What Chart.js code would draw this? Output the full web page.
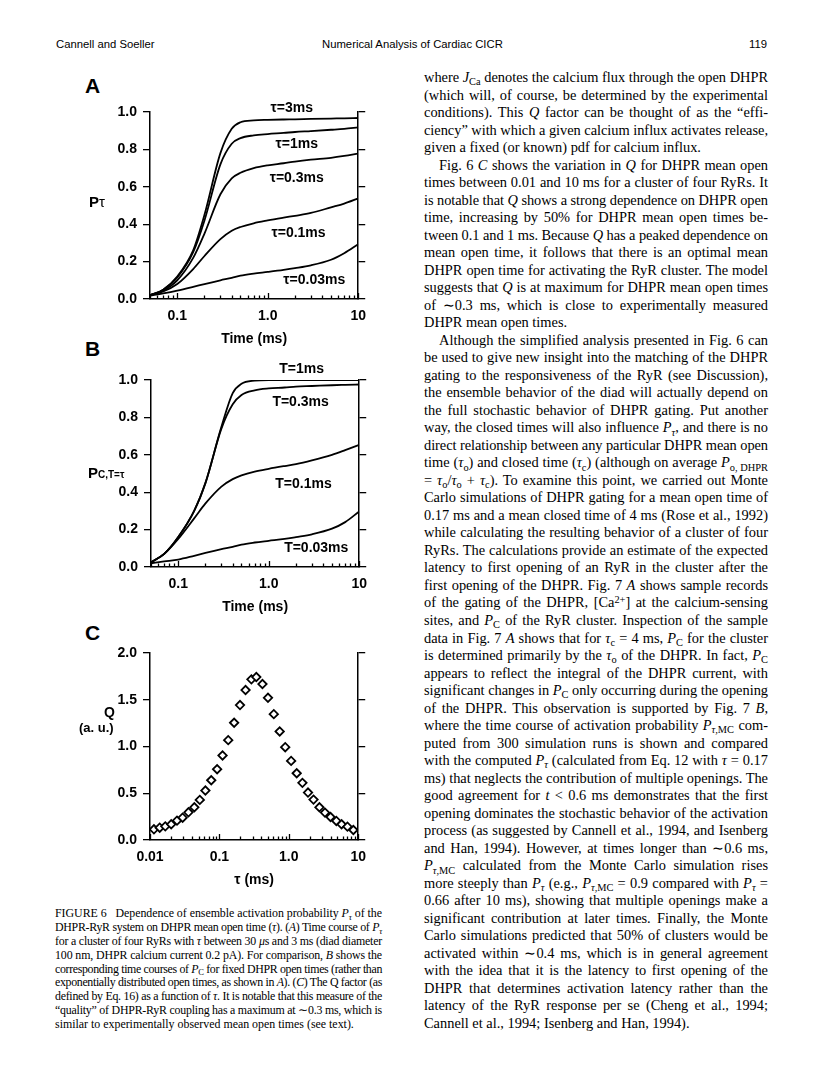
<!DOCTYPE html>
<html>
<head>
<meta charset="utf-8">
<script src="https://cdn.jsdelivr.net/npm/chart.js"></script>
<style>
body{margin:0;background:#fff;}
#page{position:relative;width:816px;height:1078px;overflow:hidden;color:#000;font-family:"Liberation Serif","Times New Roman",serif;}
.abs{position:absolute;}
.hdr{position:absolute;top:38px;font-family:"Liberation Sans",Arial,sans-serif;font-size:11.3px;}
.sans{font-family:"Liberation Sans",Arial,sans-serif;font-weight:bold;}
.letter{position:absolute;left:85px;font-family:"Liberation Sans",Arial,sans-serif;font-weight:bold;font-size:21px;line-height:21px;}
.col{position:absolute;left:424px;top:69px;width:344px;font-size:14.4px;line-height:17.52px;}
.col div,.cap div{white-space:nowrap;height:17.52px;}
.col div.ind{padding-left:15px;}
.cap{position:absolute;left:55px;top:907px;width:327px;font-size:11.9px;line-height:13.9px;}
.cap div{height:13.9px;}
sub{font-size:0.72em;vertical-align:baseline;position:relative;top:0.32em;}
sup{font-size:0.72em;vertical-align:baseline;position:relative;top:-0.4em;}
canvas{position:absolute;}
</style>
</head>
<body>
<div id="page">
  <div class="hdr" style="left:56px">Cannell and Soeller</div>
  <div class="hdr" style="left:322px">Numerical Analysis of Cardiac CICR</div>
  <div class="hdr" style="left:749px">119</div>

  <div class="letter" style="top:75px">A</div>
  <div class="letter" style="top:338px">B</div>
  <div class="letter" style="top:622px">C</div>

  <canvas id="chartA" width="295" height="267" style="left:80px;top:82px"></canvas>
  <canvas id="chartB" width="295" height="267" style="left:81px;top:350px"></canvas>
  <canvas id="chartC" width="295" height="267" style="left:80px;top:623px"></canvas>

  <div class="abs sans" style="left:89px;top:193px;font-size:15px;">P<span style="font-weight:normal">τ</span></div>
  <div class="abs sans" style="left:88px;top:464px;font-size:15px;">P<span style="font-size:10px">C,T=τ</span></div>
  <div class="abs sans" style="left:104px;top:704px;font-size:14px;">Q</div>
  <div class="abs sans" style="left:79px;top:720px;font-size:13px;">(a. u.)</div>

  <div class="cap">
    <div>FIGURE 6&nbsp;&nbsp; Dependence of ensemble activation probability <i>P</i><sub><i>τ</i></sub> of the</div>
    <div>DHPR-RyR system on DHPR mean open time (<i>τ</i>). (<i>A</i>) Time course of <i>P</i><sub><i>τ</i></sub></div>
    <div>for a cluster of four RyRs with <i>τ</i> between 30 <i>μ</i>s and 3 ms (diad diameter</div>
    <div>100 nm, DHPR calcium current 0.2 pA). For comparison, <i>B</i> shows the</div>
    <div>corresponding time courses of <i>P</i><sub>C</sub> for fixed DHPR open times (rather than</div>
    <div>exponentially distributed open times, as shown in <i>A</i>). (<i>C</i>) The Q factor (as</div>
    <div>defined by Eq. 16) as a function of <i>τ</i>. It is notable that this measure of the</div>
    <div>“quality” of DHPR-RyR coupling has a maximum at ∼0.3 ms, which is</div>
    <div class="e">similar to experimentally observed mean open times (see text).</div>
  </div>

  <div class="col">
    <div>where <i>J</i><sub>Ca</sub> denotes the calcium flux through the open DHPR</div>
    <div>(which will, of course, be determined by the experimental</div>
    <div>conditions). This <i>Q</i> factor can be thought of as the “effi-</div>
    <div>ciency” with which a given calcium influx activates release,</div>
    <div class="e">given a fixed (or known) pdf for calcium influx.</div>
    <div class="ind">Fig. 6 <i>C</i> shows the variation in <i>Q</i> for DHPR mean open</div>
    <div>times between 0.01 and 10 ms for a cluster of four RyRs. It</div>
    <div>is notable that <i>Q</i> shows a strong dependence on DHPR open</div>
    <div>time, increasing by 50% for DHPR mean open times be-</div>
    <div>tween 0.1 and 1 ms. Because <i>Q</i> has a peaked dependence on</div>
    <div>mean open time, it follows that there is an optimal mean</div>
    <div>DHPR open time for activating the RyR cluster. The model</div>
    <div>suggests that <i>Q</i> is at maximum for DHPR mean open times</div>
    <div>of ∼0.3 ms, which is close to experimentally measured</div>
    <div class="e">DHPR mean open times.</div>
    <div class="ind">Although the simplified analysis presented in Fig. 6 can</div>
    <div>be used to give new insight into the matching of the DHPR</div>
    <div>gating to the responsiveness of the RyR (see Discussion),</div>
    <div>the ensemble behavior of the diad will actually depend on</div>
    <div>the full stochastic behavior of DHPR gating. Put another</div>
    <div>way, the closed times will also influence <i>P</i><sub><i>τ</i></sub>, and there is no</div>
    <div>direct relationship between any particular DHPR mean open</div>
    <div>time (<i>τ</i><sub>o</sub>) and closed time (<i>τ</i><sub>c</sub>) (although on average <i>P</i><sub>o, DHPR</sub></div>
    <div>= <i>τ</i><sub>o</sub>/<i>τ</i><sub>o</sub> + <i>τ</i><sub>c</sub>). To examine this point, we carried out Monte</div>
    <div>Carlo simulations of DHPR gating for a mean open time of</div>
    <div>0.17 ms and a mean closed time of 4 ms (Rose et al., 1992)</div>
    <div>while calculating the resulting behavior of a cluster of four</div>
    <div>RyRs. The calculations provide an estimate of the expected</div>
    <div>latency to first opening of an RyR in the cluster after the</div>
    <div>first opening of the DHPR. Fig. 7 <i>A</i> shows sample records</div>
    <div>of the gating of the DHPR, [Ca<sup>2+</sup>] at the calcium-sensing</div>
    <div>sites, and <i>P</i><sub>C</sub> of the RyR cluster. Inspection of the sample</div>
    <div>data in Fig. 7 <i>A</i> shows that for <i>τ</i><sub>c</sub> = 4 ms, <i>P</i><sub>C</sub> for the cluster</div>
    <div>is determined primarily by the <i>τ</i><sub>o</sub> of the DHPR. In fact, <i>P</i><sub>C</sub></div>
    <div>appears to reflect the integral of the DHPR current, with</div>
    <div>significant changes in <i>P</i><sub>C</sub> only occurring during the opening</div>
    <div>of the DHPR. This observation is supported by Fig. 7 <i>B</i>,</div>
    <div>where the time course of activation probability <i>P</i><sub><i>τ</i>,MC</sub> com-</div>
    <div>puted from 300 simulation runs is shown and compared</div>
    <div>with the computed <i>P</i><sub><i>τ</i></sub> (calculated from Eq. 12 with <i>τ</i> = 0.17</div>
    <div>ms) that neglects the contribution of multiple openings. The</div>
    <div>good agreement for <i>t</i> &lt; 0.6 ms demonstrates that the first</div>
    <div>opening dominates the stochastic behavior of the activation</div>
    <div>process (as suggested by Cannell et al., 1994, and Isenberg</div>
    <div>and Han, 1994). However, at times longer than ∼0.6 ms,</div>
    <div><i>P</i><sub><i>τ</i>,MC</sub> calculated from the Monte Carlo simulation rises</div>
    <div>more steeply than <i>P</i><sub><i>τ</i></sub> (e.g., <i>P</i><sub><i>τ</i>,MC</sub> = 0.9 compared with <i>P</i><sub><i>τ</i></sub> =</div>
    <div>0.66 after 10 ms), showing that multiple openings make a</div>
    <div>significant contribution at later times. Finally, the Monte</div>
    <div>Carlo simulations predicted that 50% of clusters would be</div>
    <div>activated within ∼0.4 ms, which is in general agreement</div>
    <div>with the idea that it is the latency to first opening of the</div>
    <div>DHPR that determines activation latency rather than the</div>
    <div>latency of the RyR response per se (Cheng et al., 1994;</div>
    <div class="e">Cannell et al., 1994; Isenberg and Han, 1994).</div>
  </div>
</div>

<script>
// Giustifica ogni riga alla larghezza della colonna (righe fisse come nella pagina)
function fitLines(sel, minLs) {
  document.querySelectorAll(sel).forEach(function (d) {
    var target = d.clientWidth - (parseFloat(getComputedStyle(d).paddingLeft) || 0);
    var r = document.createRange();
    r.selectNodeContents(d);
    var w = r.getBoundingClientRect().width;
    var txt = d.textContent.trim();
    var spaces = (txt.match(/ /g) || []).length;
    var extra = target - w;
    if (extra < 0) {
      // riga troppo larga: stringi le lettere, poi gli spazi
      var ls = Math.max(extra / txt.length, minLs);
      d.style.letterSpacing = ls + "px";
      r.selectNodeContents(d);
      w = r.getBoundingClientRect().width;
      extra = target - w;
    }
    if (!d.classList.contains("e") && spaces > 0) {
      d.style.wordSpacing = (extra / spaces) + "px";
    }
  });
}
fitLines(".col div", -0.6);
fitLines(".cap div", -0.8);

// Dati
var timeMs = [0.05, 0.07, 0.1, 0.15, 0.2, 0.3, 0.4, 0.5, 0.7, 1, 1.5, 2, 3, 5, 7, 10];

// A: P_tau per tempi medi di apertura esponenziali
var pTau3   = [0.02, 0.05, 0.12, 0.26, 0.45, 0.78, 0.91, 0.945, 0.955, 0.958, 0.96, 0.961, 0.963, 0.965, 0.966, 0.968];
var pTau1   = [0.02, 0.05, 0.115, 0.25, 0.42, 0.72, 0.83, 0.86, 0.875, 0.882, 0.888, 0.893, 0.898, 0.905, 0.91, 0.918];
var pTau03  = [0.02, 0.045, 0.1, 0.22, 0.35, 0.56, 0.645, 0.675, 0.7, 0.715, 0.726, 0.735, 0.745, 0.755, 0.765, 0.778];
var pTau01  = [0.02, 0.04, 0.08, 0.16, 0.23, 0.32, 0.365, 0.385, 0.405, 0.42, 0.435, 0.445, 0.46, 0.49, 0.51, 0.538];
var pTau003 = [0.018, 0.03, 0.045, 0.065, 0.08, 0.1, 0.113, 0.125, 0.136, 0.145, 0.156, 0.165, 0.18, 0.21, 0.245, 0.293];

// B: P_C per tempi di apertura fissi
var pcT1   = [0.025, 0.07, 0.16, 0.3, 0.45, 0.75, 0.93, 0.98, 0.997, 1.0, 1.0, 1.0, 1.0, 1.0, 1.0, 1.0];
var pcT03  = [0.025, 0.07, 0.16, 0.3, 0.45, 0.74, 0.87, 0.92, 0.945, 0.955, 0.96, 0.965, 0.968, 0.972, 0.974, 0.976];
var pcT01  = [0.025, 0.07, 0.15, 0.26, 0.34, 0.43, 0.47, 0.49, 0.51, 0.525, 0.54, 0.55, 0.57, 0.6, 0.625, 0.653];
var pcT003 = [0.02, 0.03, 0.04, 0.06, 0.075, 0.095, 0.108, 0.12, 0.131, 0.14, 0.15, 0.16, 0.175, 0.205, 0.24, 0.297];

// C: fattore Q in funzione di tau
var qTau = [0.0114, 0.0138, 0.0166, 0.0202, 0.0245, 0.0295, 0.0358, 0.0435, 0.0522, 0.0628, 0.0763, 0.0927,
            0.111, 0.134, 0.163, 0.198, 0.238, 0.289, 0.340, 0.417, 0.501, 0.608, 0.739, 0.888,
            1.08, 1.30, 1.57, 1.89, 2.27, 2.76, 3.32, 3.99, 4.84, 5.76, 7.00, 8.51];
var qVal = [0.114, 0.132, 0.146, 0.168, 0.207, 0.239, 0.296, 0.35, 0.429, 0.529, 0.639, 0.757,
            0.904, 1.068, 1.254, 1.443, 1.604, 1.718, 1.743, 1.668, 1.521, 1.346, 1.161, 0.993,
            0.846, 0.714, 0.611, 0.507, 0.432, 0.35, 0.293, 0.246, 0.204, 0.168, 0.143, 0.107];

// etichette degli assi
var ticksAB = [0.05, 0.06, 0.07, 0.08, 0.09, 0.1, 0.2, 0.3, 0.4, 0.5, 0.6, 0.7, 0.8, 0.9,
               1, 2, 3, 4, 5, 6, 7, 8, 9, 10];
var ticksC = [0.01, 0.02, 0.03, 0.04, 0.05, 0.06, 0.07, 0.08, 0.09].concat(ticksAB.slice(5));
var decadeLabels = {0.01: "0.01", 0.1: "0.1", 1: "1.0", 10: "10"};

// etichette delle curve (posizione in coordinate dati)
var labelsA = [["τ=3ms", 1.84, 1.02], ["τ=1ms", 2.09, 0.83], ["τ=0.3ms", 2.09, 0.647],
               ["τ=0.1ms", 2.19, 0.353], ["τ=0.03ms", 3.27, 0.102]];
var labelsB = [["T=1ms", 2.31, 1.059], ["T=0.3ms", 2.25, 0.882], ["T=0.1ms", 2.42, 0.444],
               ["T=0.03ms", 3.35, 0.102]];

var FONT = "'Liberation Sans', Arial, sans-serif";

function isDecade(v) {
  var l = Math.log10(v);
  return Math.abs(l - Math.round(l)) < 1e-6;
}

// tacche verso l'interno sull'asse x + etichette delle curve
var axisExtras = {
  id: "axisExtras",
  afterDraw: function (chart, args, opts) {
    var ctx = chart.ctx, sx = chart.scales.x, sy = chart.scales.y;
    var yb = chart.chartArea.bottom;
    ctx.save();
    ctx.strokeStyle = "#000";
    ctx.lineWidth = 1.3;
    sx.ticks.forEach(function (t) {
      var px = Math.round(sx.getPixelForValue(t.value)) + 0.5;
      ctx.beginPath();
      ctx.moveTo(px, yb);
      ctx.lineTo(px, yb - (isDecade(t.value) ? 6 : 3.5));
      ctx.stroke();
    });
    ctx.fillStyle = "#000";
    ctx.font = "bold 14px " + FONT;
    ctx.textAlign = "center";
    ctx.textBaseline = "middle";
    (opts.items || []).forEach(function (it) {
      ctx.fillText(it[0], sx.getPixelForValue(it[1]), sy.getPixelForValue(it[2]));
    });
    ctx.restore();
  }
};

function curve(ys) {
  return {
    data: timeMs.map(function (t, i) { return {x: t, y: ys[i]}; }),
    borderColor: "#000",
    borderWidth: 1.8,
    pointRadius: 0,
    cubicInterpolationMode: "monotone",
    fill: false
  };
}

function options(xTicks, xMin, yMax, yStep, title, items) {
  return {
    responsive: false,
    animation: false,
    devicePixelRatio: 1,
    layout: {padding: {top: 30, left: 0, right: 0, bottom: 0}},
    plugins: {legend: {display: false}, tooltip: {enabled: false}, axisExtras: {items: items}},
    scales: {
      x: {
        type: "logarithmic",
        min: xMin, max: 10,
        afterBuildTicks: function (s) { s.ticks = xTicks.map(function (v) { return {value: v}; }); },
        afterFit: function (s) { s.height = 50; },
        grid: {display: false, drawTicks: false},
        border: {display: true, color: "#000", width: 1.5},
        ticks: {
          autoSkip: false, maxRotation: 0, padding: 9, color: "#000",
          font: {family: FONT, size: 14, weight: "bold"},
          callback: function (v) { return decadeLabels[v] || ""; }
        },
        title: {display: true, text: title, color: "#000", padding: {top: 0, bottom: 1},
                font: {family: FONT, size: 14, weight: "bold"}}
      },
      y: {
        position: "left",
        min: 0, max: yMax,
        afterFit: function (s) { s.width = 70; },
        grid: {drawOnChartArea: false, drawTicks: true, tickLength: 7, color: "#000", lineWidth: 1.3},
        border: {display: true, color: "#000", width: 1.5},
        ticks: {stepSize: yStep, padding: 6, color: "#000",
                font: {family: FONT, size: 14, weight: "bold"},
                callback: function (v) { return v.toFixed(1); }}
      },
      y2: {
        position: "right",
        display: true,
        min: 0, max: yMax,
        afterFit: function (s) { s.width = 12; },
        grid: {drawOnChartArea: false, drawTicks: true, tickLength: 7, color: "#000", lineWidth: 1.3},
        border: {display: true, color: "#000", width: 1.5},
        ticks: {stepSize: yStep, display: false}
      }
    }
  };
}

// Grafico A
new Chart("chartA", {
  type: "line",
  data: {datasets: [curve(pTau3), curve(pTau1), curve(pTau03), curve(pTau01), curve(pTau003)]},
  options: options(ticksAB, 0.05, 1, 0.2, "Time (ms)", labelsA),
  plugins: [axisExtras]
});

// Grafico B
new Chart("chartB", {
  type: "line",
  data: {datasets: [curve(pcT1), curve(pcT03), curve(pcT01), curve(pcT003)]},
  options: options(ticksAB, 0.05, 1, 0.2, "Time (ms)", labelsB),
  plugins: [axisExtras]
});

// Grafico C
new Chart("chartC", {
  type: "scatter",
  data: {
    datasets: [{
      data: qTau.map(function (t, i) { return {x: t, y: qVal[i]}; }),
      pointStyle: "rectRot",
      pointRadius: 4.2,
      borderWidth: 1.8,
      borderColor: "#000",
      backgroundColor: "#fff"
    }]
  },
  options: options(ticksC, 0.01, 2, 0.5, "τ (ms)", []),
  plugins: [axisExtras]
});
</script>
</body>
</html>
